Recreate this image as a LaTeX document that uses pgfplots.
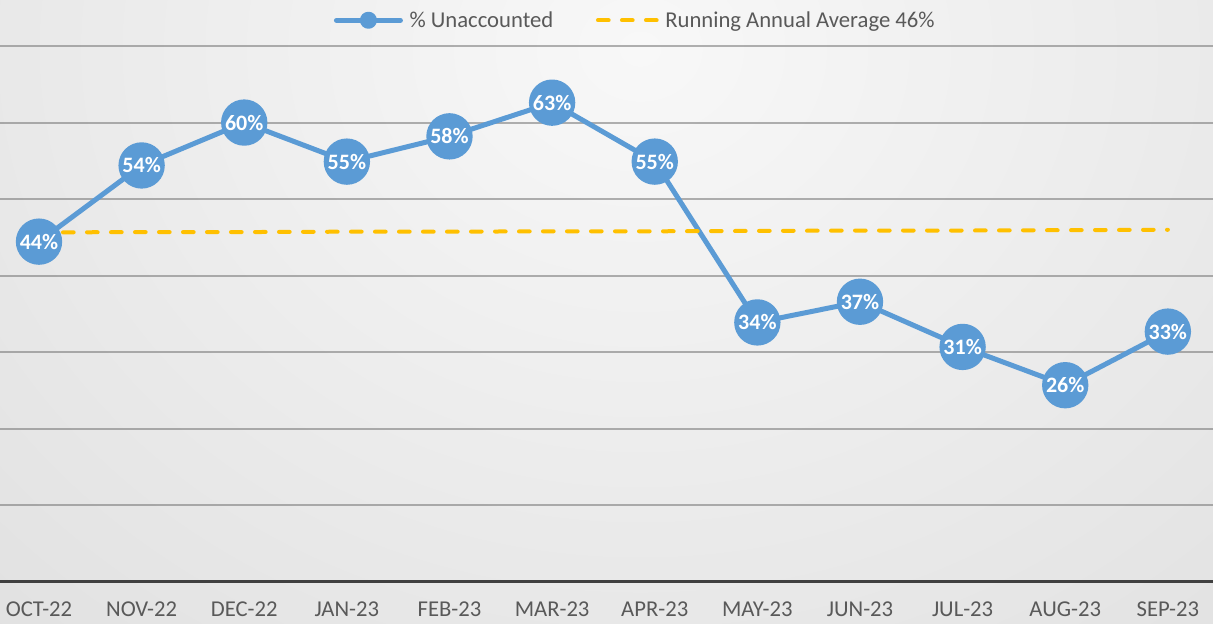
\documentclass[border=0pt]{standalone}
\usepackage{fontspec}
\setmainfont{Carlito}
\usepackage{pgfplots}
\pgfplotsset{compat=1.18}
\definecolor{lineblue}{HTML}{5B9BD5}
\definecolor{avgyellow}{HTML}{FFC000}
\definecolor{txtgray}{HTML}{595959}
\definecolor{bgin}{HTML}{F8F8F8}
\definecolor{bgout}{HTML}{CFCFCF}
\pgfdeclareradialshading{bgshade}{\pgfpoint{0bp}{0bp}}{color(0bp)=(bgin); color(35bp)=(bgout); color(50bp)=(bgout)}
\pgfplotstableread{
x y lab
0 44.45 44\%
1 54.4 54\%
2 60.0 60\%
3 54.9 55\%
4 58.2 58\%
5 62.6 63\%
6 54.9 55\%
7 33.9 34\%
8 36.6 37\%
9 30.7 31\%
10 25.7 26\%
11 32.7 33\%
}\unaccounted
\pgfplotstableread{
x y
0 45.65
1 45.7
2 45.7
3 45.75
4 45.75
5 45.8
6 45.8
7 45.85
8 45.9
9 45.9
10 45.95
11 46.0
}\average
\begin{document}
\begin{tikzpicture}
\useasboundingbox (0,-31.5pt) rectangle (909.75pt,436.5pt);
\begin{scope}
\clip (0,-31.5pt) rectangle (909.75pt,436.5pt);
\fill[bgout] (0,-31.5pt) rectangle (909.75pt,436.5pt);
\shade[shading=bgshade] (480pt,400pt) ellipse (910pt and 770pt);
\end{scope}
\begin{axis}[
  at={(0,0)}, anchor=south west,
  scale only axis,
  width=909.75pt, height=402pt,
  xmin=-0.38, xmax=11.44,
  ymin=0, ymax=70,
  xtick={0,...,11},
  xticklabels={OCT-22,NOV-22,DEC-22,JAN-23,FEB-23,MAR-23,APR-23,MAY-23,JUN-23,JUL-23,AUG-23,SEP-23},
  ytick={10,20,...,70},
  yticklabels={},
  ymajorgrids,
  major grid style={draw=black!55, opacity=0.55, line width=1.5pt},
  major tick length=0pt,
  axis x line*=bottom,
  axis y line*=left,
  x axis line style={-, draw=black!75, line width=2.25pt},
  y axis line style={draw=none},
  x tick label style={font=\fontsize{17}{19}\selectfont, text=txtgray, yshift=-11pt},
  legend style={at={(rel axis cs:0.524,1.048)}, anchor=center, draw=none, fill=none,
    legend columns=2, font=\fontsize{17}{19}\selectfont, text=txtgray,
    /tikz/every even column/.append style={column sep=30pt},
    /tikz/every odd column/.append style={column sep=3pt}},
  clip=false,
]
\addplot[color=lineblue, line width=3.75pt, line join=round,
  mark=*, mark size=15.5pt, mark options={draw=none, fill=lineblue},
  nodes near coords,
  point meta=explicit symbolic,
  every node near coord/.append style={anchor=center, text=white, font=\fontsize{16.5}{18}\selectfont\bfseries},
  legend image code/.code={\draw[lineblue, line width=3.75pt, line cap=round] (0pt,0pt) -- (48pt,0pt);
    \fill[lineblue] (24pt,0pt) circle (4.5pt);}
] table[x=x,y=y,meta=lab] {\unaccounted};
\addlegendentry{\% Unaccounted}
\addplot[color=avgyellow, line width=3pt, line cap=round, dash pattern=on 8pt off 10pt, no marks,
  legend image code/.code={\draw[avgyellow, line width=3pt, line cap=round, dash pattern=on 8pt off 10pt] (0pt,0pt) -- (44pt,0pt);}
] table[x=x,y=y] {\average};
\addlegendentry{Running Annual Average 46\%}
\end{axis}
\end{tikzpicture}
\end{document}
